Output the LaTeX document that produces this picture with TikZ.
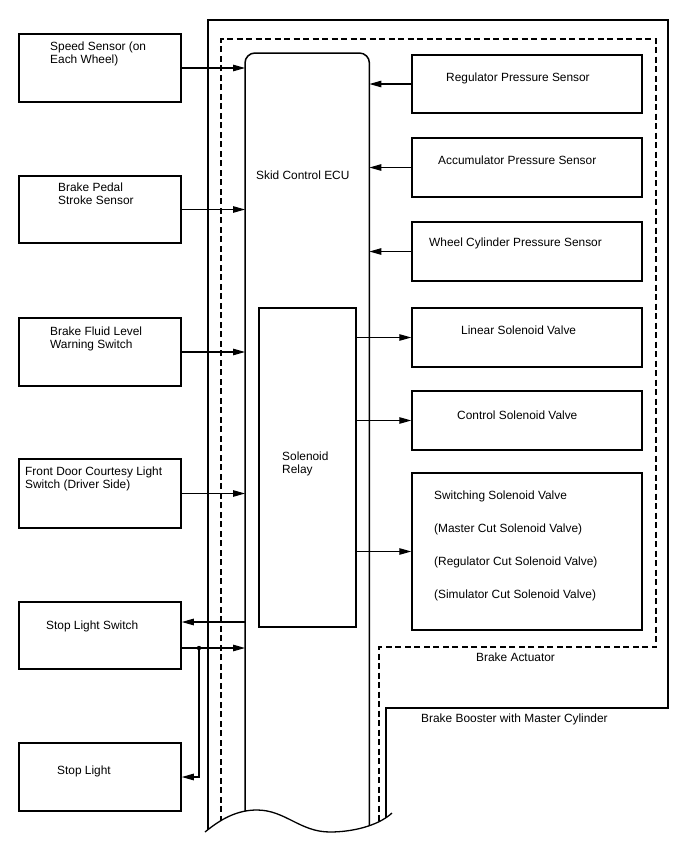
\documentclass[tikz,border=0pt]{standalone}
\usepackage{fontspec}
\setmainfont{Liberation Sans}
\usetikzlibrary{arrows.meta}
\begin{document}
\begin{tikzpicture}[x=1pt,y=-1pt,
  every node/.style={font=\fontsize{11.9pt}{13.5pt}\selectfont},
  box/.style={draw, line width=1.5pt, inner sep=0pt},
  lbox/.style={box, minimum width=162pt},
  rbox/.style={box, minimum width=230pt},
  txt/.style={anchor=north west, inner sep=0pt, align=left},
  arr/.style={line width=1.1pt, -{Triangle[length=12pt,width=6.5pt]}},
  border/.style={line width=1.5pt},
  dashborder/.style={line width=1.4pt, dash pattern=on 6pt off 3.5pt}]
\useasboundingbox (0,0) rectangle (688,852);

% ECU (invisible anchor node)
\node[inner sep=0pt, minimum width=124pt, minimum height=790pt, anchor=north west] (ecu) at (245,53) {};

% boundaries and ECU outline, clipped by the wavy break
\begin{scope}
  \clip (-10,-10) -- (700,-10) -- (700,813) -- (392,813)
    .. controls (378,826) and (352,832) .. (330,832)
    .. controls (300,832) and (285,810) .. (257,810)
    .. controls (238,810) and (222,818) .. (205,832)
    -- (-10,832) -- cycle;
  \draw[border] (208,850) -- (208,20) -- (668,20) -- (668,708) -- (386,708) -- (386,850);
  \draw[dashborder] (221,850) -- (221,39) -- (656,39) -- (656,647) -- (379,647) -- (379,850);
  \draw[border, rounded corners=10pt] (ecu.south west) -- (ecu.north west) -- (ecu.north east) -- (ecu.south east);
\end{scope}
\draw[line width=1.3pt] (205,832)
    .. controls (222,818) and (238,810) .. (257,810)
    .. controls (285,810) and (300,832) .. (330,832)
    .. controls (352,832) and (378,826) .. (392,813);

% left boxes
\node[lbox, minimum height=68pt] (speed) at (100,68) {};
\node[lbox, minimum height=67pt] (pedal) at (100,209.5) {};
\node[lbox, minimum height=68pt] (fluid) at (100,352) {};
\node[lbox, minimum height=69pt] (door) at (100,493.5) {};
\node[lbox, minimum height=67pt] (sls) at (100,635.5) {};
\node[lbox, minimum height=68pt] (sl) at (100,777) {};

% right boxes
\node[rbox, minimum height=58pt] (reg) at (527,84) {};
\node[rbox, minimum height=59pt] (acc) at (527,167.5) {};
\node[rbox, minimum height=59pt] (wcyl) at (527,251.5) {};
\node[rbox, minimum height=59pt] (lin) at (527,337.5) {};
\node[rbox, minimum height=59pt] (ctrl) at (527,420.5) {};
\node[rbox, minimum height=157pt] (sw) at (527,551.5) {};

% solenoid relay
\node[box, minimum width=97pt, minimum height=319pt] (relay) at (307.5,467.5) {};

% texts
\node[txt] (tspeed) at (50,41.5) {Speed Sensor (on\\Each Wheel)};
\node[txt] (tpedal) at (58,182.5) {Brake Pedal\\Stroke Sensor};
\node[txt] (tfluid) at (50,326.5) {Brake Fluid Level\\Warning Switch};
\node[txt] (tdoor) at (25,466.5) {Front Door Courtesy Light\\Switch (Driver Side)};
\node[txt] (tsls) at (46,620.5) {Stop Light Switch};
\node[txt] (tsl) at (57,765.5) {Stop Light};
\node[txt] (tecu) at (256,170.5) {Skid Control ECU};
\node[txt] (trelay) at (282,451.5) {Solenoid\\Relay};
\node[txt] (treg) at (446,72.5) {Regulator Pressure Sensor};
\node[txt] (tacc) at (438,155.5) {Accumulator Pressure Sensor};
\node[txt] (twcyl) at (429,237.5) {Wheel Cylinder Pressure Sensor};
\node[txt] (tlin) at (461,325.5) {Linear Solenoid Valve};
\node[txt] (tctrl) at (457,410.5) {Control Solenoid Valve};
\node[txt, font=\fontsize{11.9pt}{33pt}\selectfont] (tsw) at (434,490.5)
  {Switching Solenoid Valve\\(Master Cut Solenoid Valve)\\(Regulator Cut Solenoid Valve)\\(Simulator Cut Solenoid Valve)};
\node[txt] (tact) at (476,652.5) {Brake Actuator};
\node[txt] (tboost) at (421,713.5) {Brake Booster with Master Cylinder};

% connectors left
\draw[arr] (speed.east) -- (speed.east -| ecu.west);
\draw[arr] (pedal.east) -- (pedal.east -| ecu.west);
\draw[arr] (fluid.east) -- (fluid.east -| ecu.west);
\draw[arr] (door.east) -- (door.east -| ecu.west);
\coordinate (sout) at (245,622);
\coordinate (jn) at (199,648);
\draw[arr] (sout) -- (sout -| sls.east);
\draw[arr] (sls.east |- jn) -- (ecu.west |- jn);
\fill (jn) circle (2.2pt);
\draw[arr] (jn) |- (sl.east);

% connectors right
\draw[arr] (reg.west) -- (reg.west -| ecu.east);
\draw[arr] (acc.west) -- (acc.west -| ecu.east);
\draw[arr] (wcyl.west) -- (wcyl.west -| ecu.east);
\draw[arr] (relay.east |- lin.west) -- (lin.west);
\draw[arr] (relay.east |- ctrl.west) -- (ctrl.west);
\draw[arr] (relay.east |- sw.west) -- (sw.west);
\end{tikzpicture}
\end{document}
